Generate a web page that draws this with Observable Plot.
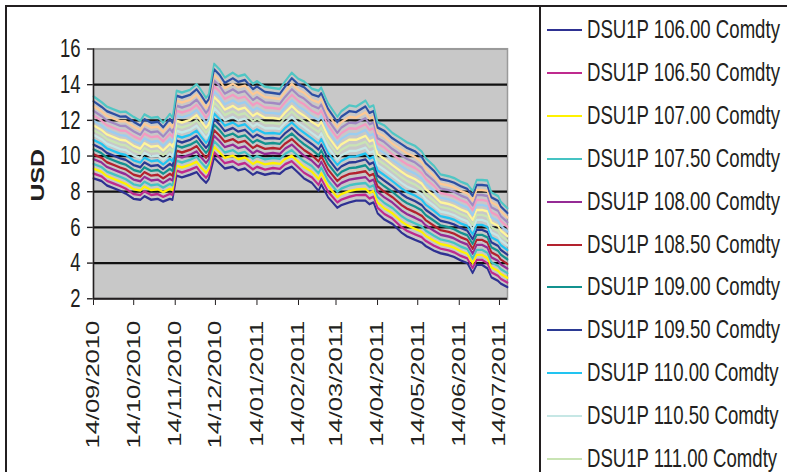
<!DOCTYPE html>
<html><head><meta charset="utf-8">
<script src="https://cdn.jsdelivr.net/npm/d3@7"></script>
<script src="https://cdn.jsdelivr.net/npm/@observablehq/plot@0.6"></script>
<style>
html,body{margin:0;padding:0;background:#fff;overflow:hidden;width:787px;height:472px;}
#stage{position:absolute;left:0;top:0;width:787px;height:342px;transform:scaleY(1.38);transform-origin:0 0;font-family:"Liberation Sans",Arial,sans-serif;color:#231f20;}
#frame{position:absolute;left:5px;top:5px;width:900px;height:500px;border-top:2px solid #231f20;border-left:2px solid #231f20;}
#sep{position:absolute;left:539px;top:5px;width:2px;height:500px;background:#231f20;}
#chart{position:absolute;left:0;top:0;}
#ylab{position:absolute;left:38px;top:127px;transform:translate(-50%,-50%) rotate(-90deg);font-weight:bold;font-size:18px;white-space:nowrap;}
#legend{position:absolute;left:0;top:0;width:787px;height:472px;font-family:"Liberation Sans",Arial,sans-serif;color:#231f20;}
.sw{position:absolute;left:547px;width:35px;height:2px;}
.lab{position:absolute;left:587px;font-size:18.6px;line-height:20px;height:20px;transform:translateY(-50%) scaleY(1.38);transform-origin:0 50%;white-space:nowrap;}
</style></head>
<body>
<div id="frame"></div>
<div id="sep"></div>
<div id="stage">
  <div id="chart"></div>
  <div id="ylab">USD</div>
</div>
<div id="legend"></div>
<script>
const dates = ["2010-09-14","2010-09-20","2010-09-24","2010-09-29","2010-10-04","2010-10-08","2010-10-14","2010-10-19","2010-10-22","2010-10-27","2010-11-01","2010-11-05","2010-11-10","2010-11-12","2010-11-15","2010-11-19","2010-11-25","2010-11-30","2010-12-03","2010-12-07","2010-12-09","2010-12-13","2010-12-17","2010-12-21","2010-12-27","2010-12-31","2011-01-05","2011-01-11","2011-01-14","2011-01-20","2011-01-26","2011-01-31","2011-02-04","2011-02-09","2011-02-14","2011-02-18","2011-02-24","2011-03-01","2011-03-03","2011-03-08","2011-03-15","2011-03-18","2011-03-24","2011-03-29","2011-04-05","2011-04-08","2011-04-11","2011-04-14","2011-04-19","2011-04-25","2011-05-02","2011-05-06","2011-05-12","2011-05-17","2011-05-20","2011-05-26","2011-05-31","2011-06-06","2011-06-10","2011-06-15","2011-06-20","2011-06-24","2011-06-27","2011-07-01","2011-07-05","2011-07-08","2011-07-13","2011-07-15","2011-07-20"];

const p10600 = [8.75,8.60,8.35,8.20,8.05,7.90,7.60,7.55,7.75,7.55,7.60,7.45,7.60,7.55,8.90,8.80,8.95,9.10,8.80,8.50,8.70,9.90,9.60,9.30,9.40,9.20,9.30,8.95,9.10,8.95,9.05,9.00,9.25,9.40,9.05,8.75,8.50,8.05,8.40,7.70,7.10,7.25,7.40,7.50,7.50,7.30,7.40,6.80,6.45,6.20,5.70,5.50,5.30,5.15,4.95,4.70,4.55,4.45,4.35,4.15,4.00,3.45,3.90,3.90,3.70,3.20,3.00,2.85,2.65];
const p10650 = [9.02,8.86,8.61,8.46,8.31,8.17,7.87,7.81,8.02,7.82,7.87,7.71,7.88,7.82,9.18,9.08,9.23,9.39,9.09,8.78,8.98,10.21,9.91,9.60,9.71,9.51,9.61,9.25,9.40,9.24,9.33,9.28,9.54,9.71,9.36,9.07,8.81,8.38,8.72,8.01,7.40,7.56,7.72,7.81,7.83,7.62,7.72,7.10,6.76,6.50,6.01,5.81,5.61,5.45,5.24,4.98,4.81,4.71,4.61,4.41,4.26,3.72,4.18,4.18,3.99,3.48,3.28,3.12,2.91];
const p10700 = [9.29,9.12,8.87,8.72,8.57,8.44,8.14,8.07,8.29,8.09,8.14,7.97,8.16,8.09,9.46,9.36,9.51,9.68,9.38,9.06,9.26,10.52,10.22,9.90,10.02,9.82,9.92,9.55,9.70,9.53,9.61,9.56,9.83,10.02,9.67,9.39,9.12,8.71,9.04,8.32,7.70,7.87,8.04,8.12,8.16,7.94,8.04,7.40,7.07,6.80,6.32,6.12,5.92,5.75,5.53,5.26,5.07,4.97,4.87,4.67,4.52,3.99,4.46,4.46,4.28,3.76,3.56,3.39,3.17];
const p10750 = [9.56,9.38,9.13,8.98,8.83,8.71,8.41,8.33,8.56,8.36,8.41,8.23,8.44,8.36,9.74,9.64,9.79,9.97,9.67,9.34,9.54,10.83,10.53,10.20,10.33,10.13,10.23,9.85,10.00,9.82,9.89,9.84,10.12,10.33,9.98,9.71,9.43,9.04,9.36,8.63,8.00,8.18,8.36,8.43,8.49,8.26,8.36,7.70,7.38,7.10,6.63,6.43,6.23,6.05,5.82,5.54,5.33,5.23,5.13,4.93,4.78,4.26,4.74,4.74,4.57,4.04,3.84,3.66,3.43];
const p10800 = [9.83,9.64,9.39,9.24,9.09,8.98,8.68,8.59,8.83,8.63,8.68,8.49,8.72,8.63,10.02,9.92,10.07,10.26,9.96,9.62,9.82,11.14,10.84,10.50,10.64,10.44,10.54,10.15,10.30,10.11,10.17,10.12,10.41,10.64,10.29,10.03,9.74,9.37,9.68,8.94,8.30,8.49,8.68,8.74,8.82,8.58,8.68,8.00,7.69,7.40,6.94,6.74,6.54,6.35,6.11,5.82,5.59,5.49,5.39,5.19,5.04,4.53,5.02,5.02,4.86,4.32,4.12,3.93,3.69];
const p10850 = [10.10,9.90,9.65,9.50,9.35,9.25,8.95,8.85,9.10,8.90,8.95,8.75,9.00,8.90,10.30,10.20,10.35,10.55,10.25,9.90,10.10,11.45,11.15,10.80,10.95,10.75,10.85,10.45,10.60,10.40,10.45,10.40,10.70,10.95,10.60,10.35,10.05,9.70,10.00,9.25,8.60,8.80,9.00,9.05,9.15,8.90,9.00,8.30,8.00,7.70,7.25,7.05,6.85,6.65,6.40,6.10,5.85,5.75,5.65,5.45,5.30,4.80,5.30,5.30,5.15,4.60,4.40,4.20,3.95];
const p10900 = [10.37,10.16,9.91,9.76,9.61,9.52,9.22,9.11,9.37,9.17,9.22,9.01,9.28,9.17,10.58,10.48,10.63,10.84,10.54,10.18,10.38,11.76,11.46,11.10,11.26,11.06,11.16,10.75,10.90,10.69,10.73,10.68,10.99,11.26,10.91,10.67,10.36,10.03,10.32,9.56,8.90,9.11,9.32,9.36,9.48,9.22,9.32,8.60,8.31,8.00,7.56,7.36,7.16,6.95,6.69,6.38,6.11,6.01,5.91,5.71,5.56,5.07,5.58,5.58,5.44,4.88,4.68,4.47,4.21];
const p10950 = [10.64,10.42,10.17,10.02,9.87,9.79,9.49,9.37,9.64,9.44,9.49,9.27,9.56,9.44,10.86,10.76,10.91,11.13,10.83,10.46,10.66,12.07,11.77,11.40,11.57,11.37,11.47,11.05,11.20,10.98,11.01,10.96,11.28,11.57,11.22,10.99,10.67,10.36,10.64,9.87,9.20,9.42,9.64,9.67,9.81,9.54,9.64,8.90,8.62,8.30,7.87,7.67,7.47,7.25,6.98,6.66,6.37,6.27,6.17,5.97,5.82,5.34,5.86,5.86,5.73,5.16,4.96,4.74,4.47];
const p11000 = [10.91,10.68,10.43,10.28,10.13,10.06,9.76,9.63,9.91,9.71,9.76,9.53,9.84,9.71,11.14,11.04,11.19,11.42,11.12,10.74,10.94,12.38,12.08,11.70,11.88,11.68,11.78,11.35,11.50,11.27,11.29,11.24,11.57,11.88,11.53,11.31,10.98,10.69,10.96,10.18,9.50,9.73,9.96,9.98,10.14,9.86,9.96,9.20,8.93,8.60,8.18,7.98,7.78,7.55,7.27,6.94,6.63,6.53,6.43,6.23,6.08,5.61,6.14,6.14,6.02,5.44,5.24,5.01,4.73];
const p11050 = [11.18,10.94,10.69,10.54,10.39,10.33,10.03,9.89,10.18,9.98,10.03,9.79,10.12,9.98,11.42,11.32,11.47,11.71,11.41,11.02,11.22,12.69,12.39,12.00,12.19,11.99,12.09,11.65,11.80,11.56,11.57,11.52,11.86,12.19,11.84,11.63,11.29,11.02,11.28,10.49,9.80,10.04,10.28,10.29,10.47,10.18,10.28,9.50,9.24,8.90,8.49,8.29,8.09,7.85,7.56,7.22,6.89,6.79,6.69,6.49,6.34,5.88,6.42,6.42,6.31,5.72,5.52,5.28,4.99];
const p11100 = [11.45,11.20,10.95,10.80,10.65,10.60,10.30,10.15,10.45,10.25,10.30,10.05,10.40,10.25,11.70,11.60,11.75,12.00,11.70,11.30,11.50,13.00,12.70,12.30,12.50,12.30,12.40,11.95,12.10,11.85,11.85,11.80,12.15,12.50,12.15,11.95,11.60,11.35,11.60,10.80,10.10,10.35,10.60,10.60,10.80,10.50,10.60,9.80,9.55,9.20,8.80,8.60,8.40,8.15,7.85,7.50,7.15,7.05,6.95,6.75,6.60,6.15,6.70,6.70,6.60,6.00,5.80,5.55,5.25];
const p11150 = [11.72,11.46,11.21,11.06,10.91,10.87,10.57,10.41,10.72,10.52,10.57,10.31,10.68,10.52,11.98,11.88,12.03,12.29,11.99,11.58,11.78,13.31,13.01,12.60,12.81,12.61,12.71,12.25,12.40,12.14,12.13,12.08,12.44,12.81,12.46,12.27,11.91,11.68,11.92,11.11,10.40,10.66,10.92,10.91,11.13,10.82,10.92,10.10,9.86,9.50,9.11,8.91,8.71,8.45,8.14,7.78,7.41,7.31,7.21,7.01,6.86,6.42,6.98,6.98,6.89,6.28,6.08,5.82,5.51];
const p11200 = [11.99,11.72,11.47,11.32,11.17,11.14,10.84,10.67,10.99,10.79,10.84,10.57,10.96,10.79,12.26,12.16,12.31,12.58,12.28,11.86,12.06,13.62,13.32,12.90,13.12,12.92,13.02,12.55,12.70,12.43,12.41,12.36,12.73,13.12,12.77,12.59,12.22,12.01,12.24,11.42,10.70,10.97,11.24,11.22,11.46,11.14,11.24,10.40,10.17,9.80,9.42,9.22,9.02,8.75,8.43,8.06,7.67,7.57,7.47,7.27,7.12,6.69,7.26,7.26,7.18,6.56,6.36,6.09,5.77];
const p11250 = [12.26,11.98,11.73,11.58,11.43,11.41,11.11,10.93,11.26,11.06,11.11,10.83,11.24,11.06,12.54,12.44,12.59,12.87,12.57,12.14,12.34,13.93,13.63,13.20,13.43,13.23,13.33,12.85,13.00,12.72,12.69,12.64,13.02,13.43,13.08,12.91,12.53,12.34,12.56,11.73,11.00,11.28,11.56,11.53,11.79,11.46,11.56,10.70,10.48,10.10,9.73,9.53,9.33,9.05,8.72,8.34,7.93,7.83,7.73,7.53,7.38,6.96,7.54,7.54,7.47,6.84,6.64,6.36,6.03];
const p11300 = [12.53,12.24,11.99,11.84,11.69,11.68,11.38,11.19,11.53,11.33,11.38,11.09,11.52,11.33,12.82,12.72,12.87,13.16,12.86,12.42,12.62,14.24,13.94,13.50,13.74,13.54,13.64,13.15,13.30,13.01,12.97,12.92,13.31,13.74,13.39,13.23,12.84,12.67,12.88,12.04,11.30,11.59,11.88,11.84,12.12,11.78,11.88,11.00,10.79,10.40,10.04,9.84,9.64,9.35,9.01,8.62,8.19,8.09,7.99,7.79,7.64,7.23,7.82,7.82,7.76,7.12,6.92,6.63,6.29];
const p11350 = [12.80,12.50,12.25,12.10,11.95,11.95,11.65,11.45,11.80,11.60,11.65,11.35,11.80,11.60,13.10,13.00,13.15,13.45,13.15,12.70,12.90,14.55,14.25,13.80,14.05,13.85,13.95,13.45,13.60,13.30,13.25,13.20,13.60,14.05,13.70,13.55,13.15,13.00,13.20,12.35,11.60,11.90,12.20,12.15,12.45,12.10,12.20,11.30,11.10,10.70,10.35,10.15,9.95,9.65,9.30,8.90,8.45,8.35,8.25,8.05,7.90,7.50,8.10,8.10,8.05,7.40,7.20,6.90,6.55];
const p11400 = [13.07,12.76,12.51,12.36,12.21,12.22,11.92,11.71,12.07,11.87,11.92,11.61,12.08,11.87,13.38,13.28,13.43,13.74,13.44,12.98,13.18,14.86,14.56,14.10,14.36,14.16,14.26,13.75,13.90,13.59,13.53,13.48,13.89,14.36,14.01,13.87,13.46,13.33,13.52,12.66,11.90,12.21,12.52,12.46,12.78,12.42,12.52,11.60,11.41,11.00,10.66,10.46,10.26,9.95,9.59,9.18,8.71,8.61,8.51,8.31,8.16,7.77,8.38,8.38,8.34,7.68,7.48,7.17,6.81];
const p11450 = [13.34,13.02,12.77,12.62,12.47,12.49,12.19,11.97,12.34,12.14,12.19,11.87,12.36,12.14,13.66,13.56,13.71,14.03,13.73,13.26,13.46,15.17,14.87,14.40,14.67,14.47,14.57,14.05,14.20,13.88,13.81,13.76,14.18,14.67,14.32,14.19,13.77,13.66,13.84,12.97,12.20,12.52,12.84,12.77,13.11,12.74,12.84,11.90,11.72,11.30,10.97,10.77,10.57,10.25,9.88,9.46,8.97,8.87,8.77,8.57,8.42,8.04,8.66,8.66,8.63,7.96,7.76,7.44,7.07];

const seriesNames = ["DSU1P 106.00 Comdty","DSU1P 106.50 Comdty","DSU1P 107.00 Comdty","DSU1P 107.50 Comdty","DSU1P 108.00 Comdty","DSU1P 108.50 Comdty","DSU1P 109.00 Comdty","DSU1P 109.50 Comdty","DSU1P 110.00 Comdty","DSU1P 110.50 Comdty","DSU1P 111.00 Comdty","DSU1P 111.50 Comdty","DSU1P 112.00 Comdty","DSU1P 112.50 Comdty","DSU1P 113.00 Comdty","DSU1P 113.50 Comdty","DSU1P 114.00 Comdty","DSU1P 114.50 Comdty"];
const seriesValues = [p10600,p10650,p10700,p10750,p10800,p10850,p10900,p10950,p11000,p11050,p11100,p11150,p11200,p11250,p11300,p11350,p11400,p11450];
const seriesColors = ["#2e3192","#bf2a8e","#fff200","#45c3c3","#952b95","#b3222e","#13928f","#2b3a94","#22c4f1","#c6e7e5","#c9e4b4","#fff59b","#9ccdf0","#f39bc2","#a289c3","#fcc995","#2d4fa3","#50c6c4"];
const legendVisibleCount = 11; // the reference shows only the first 11 entries

const xDomain = ["2010-09-14","2011-07-20"];
const xTicks = ["2010-09-14","2010-10-14","2010-11-14","2010-12-14","2011-01-14","2011-02-14","2011-03-14","2011-04-14","2011-05-14","2011-06-14","2011-07-14"];
const yDomain = [2, 16];
const yTicks = [2, 4, 6, 8, 10, 12, 14, 16];
const yGrid = [4, 6, 8, 10, 12, 14];

const rows = seriesValues.flatMap((vals, i) =>
  vals.map((v, j) => ({date: new Date(dates[j]), value: v, name: seriesNames[i]})));

const chart = Plot.plot({
  width: 538, height: 342,
  marginLeft: 93, marginRight: 31, marginTop: 35, marginBottom: 126,
  style: {fontFamily: '"Liberation Sans", Arial, sans-serif', fontSize: "18.5px", color: "#231f20", background: "transparent"},
  x: {type: "utc", domain: xDomain.map(d => new Date(d)), ticks: xTicks.map(d => new Date(d)),
      tickFormat: d3.utcFormat("%d/%m/%Y"), tickRotate: -90, tickSize: 5, tickPadding: 11, label: null},
  y: {domain: yDomain, ticks: yTicks, tickSize: 6, tickPadding: 7, label: null},
  color: {domain: seriesNames, range: seriesColors},
  marks: [
    Plot.frame({fill: "#c8c8c8", stroke: "#9a9a9a", strokeWidth: 1.5}),
    Plot.ruleY(yGrid, {stroke: "#111", strokeWidth: 1.6}),
    Plot.lineY(rows, {x: "date", y: "value", z: "name", stroke: "name", strokeWidth: 1.75}),
    Plot.ruleY([yDomain[0]], {stroke: "#231f20", strokeWidth: 1.5}),
    Plot.ruleX([new Date(xDomain[0])], {stroke: "#231f20", strokeWidth: 1.5})
  ]
});
document.getElementById("chart").appendChild(chart);

const legend = document.getElementById("legend");
seriesNames.slice(0, legendVisibleCount).forEach((name, i) => {
  const cy = Math.round(30 + 42.9 * i);
  const sw = document.createElement("div");
  sw.className = "sw";
  sw.style.top = (cy - 1) + "px";
  sw.style.background = seriesColors[i];
  const lab = document.createElement("div");
  lab.className = "lab";
  lab.style.top = cy + "px";
  lab.textContent = name;
  legend.appendChild(sw); legend.appendChild(lab);
});
</script>
</body></html>
